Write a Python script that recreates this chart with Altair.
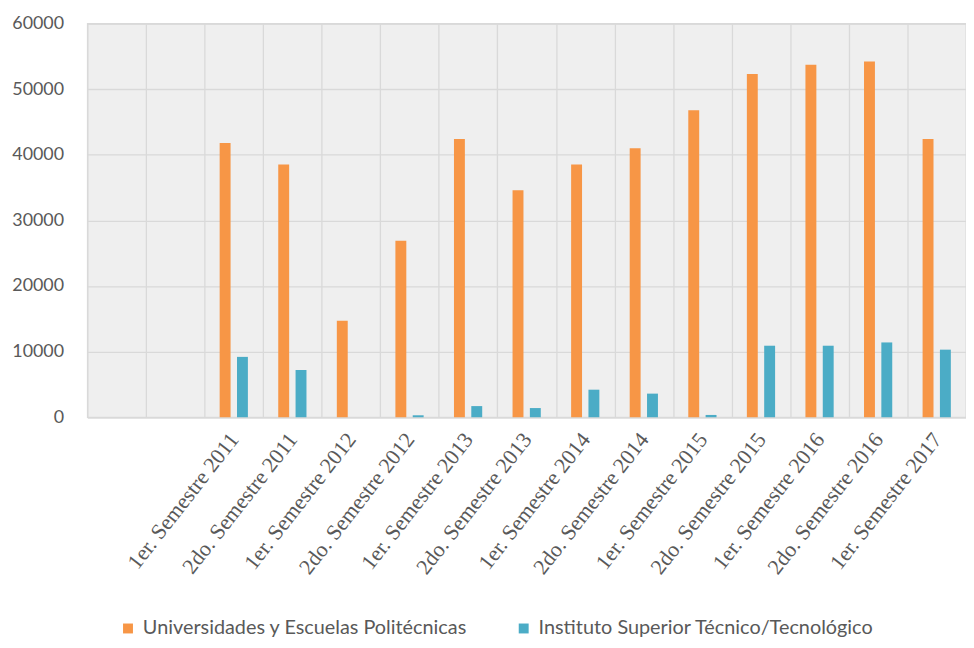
import altair as alt
import pandas as pd

categories = [
    "_a", "_b",
    "1er.  Semestre 2011", "2do. Semestre 2011",
    "1er. Semestre 2012", "2do. Semestre 2012",
    "1er. Semestre 2013", "2do. Semestre 2013",
    "1er. Semestre 2014", "2do. Semestre 2014",
    "1er. Semestre 2015", "2do. Semestre 2015",
    "1er. Semestre 2016", "2do. Semestre 2016",
    "1er. Semestre 2017",
]
universidades = [None, None, 41800, 38500, 14700, 26900, 42400, 34600,
                 38500, 41000, 46800, 52300, 53700, 54200, 42400]
institutos = [None, None, 9200, 7200, 0, 300, 1700, 1400,
              4200, 3600, 350, 10900, 10900, 11400, 10300]
series_names = ["Universidades y Escuelas Politécnicas",
                "Instituto Superior Técnico/Tecnológico"]
colors = ["#F79646", "#4BACC6"]
y_ticks = [0, 10000, 20000, 30000, 40000, 50000, 60000]

rows = []
for c, u, t in zip(categories, universidades, institutos):
    if u is not None:
        rows.append({"cat": c, "serie": series_names[0], "valor": u})
    if t is not None:
        rows.append({"cat": c, "serie": series_names[1], "valor": t})
df = pd.DataFrame(rows)

grey = "#595959"
grid = "#d9d9d9"

chart = alt.Chart(df).mark_bar().encode(
    x=alt.X(
        "cat:N", sort=categories, title=None,
        scale=alt.Scale(domain=categories, paddingInner=0, paddingOuter=0),
        axis=alt.Axis(
            tickBand="extent", grid=True, gridColor=grid, gridWidth=1.3,
            ticks=False, domainColor=grid, domainWidth=1.5,
            labelAngle=-52, labelAlign="right", labelBaseline="middle",
            labelFont="Liberation Serif", labelFontSize=22, labelColor=grey,
            labelPadding=18, labelLimit=400, labelOverlap=False,
            labelExpr="indexof(datum.label, '_') == 0 ? '' : datum.label",
        ),
    ),
    xOffset=alt.XOffset(
        "serie:N", sort=series_names,
        scale=alt.Scale(domain=series_names, paddingInner=0.37, paddingOuter=0.876),
    ),
    y=alt.Y(
        "valor:Q", title=None,
        scale=alt.Scale(domain=[0, 60000], nice=False),
        axis=alt.Axis(
            values=y_ticks, grid=True, gridColor=grid, gridWidth=1.3,
            domain=False, ticks=False, labelFont="Lato", labelFontSize=18,
            labelColor=grey, labelPadding=24, format="d",
        ),
    ),
    color=alt.Color(
        "serie:N", sort=series_names,
        scale=alt.Scale(domain=series_names, range=colors),
        legend=alt.Legend(
            title=None, orient="none", legendX=31, legendY=600,
            direction="horizontal", labelFont="Lato", labelFontSize=20,
            labelColor=grey, symbolType="square", symbolSize=100,
            symbolStrokeWidth=0, columnPadding=46, labelOffset=5,
            labelLimit=500,
        ),
    ),
).properties(
    width=886, height=397,
    autosize=alt.AutoSizeParams(type="none"),
    padding={"left": 80, "top": 13, "right": 0, "bottom": 228},
    background="white",
).configure_view(
    stroke=grid, strokeWidth=1.3, fill="#efefef",
)

chart.save("out.html", embed_options={"renderer": "svg", "actions": False})
